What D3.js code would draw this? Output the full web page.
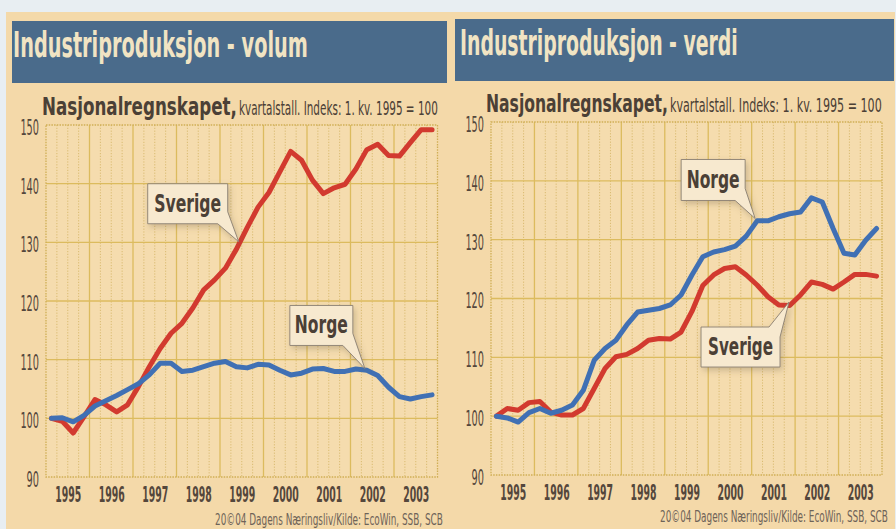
<!DOCTYPE html>
<html>
<head>
<meta charset="utf-8">
<script src="https://cdn.jsdelivr.net/npm/d3@7"></script>
<style>
body { margin: 0; background: #e7eef2; }
svg { display: block; }
</style>
</head>
<body>
<svg id="chart" width="896" height="529"></svg>
<script>
// --- data (quarterly, index 1. kv. 1995 = 100) ---
var years = [1995, 1996, 1997, 1998, 1999, 2000, 2001, 2002, 2003];
var yTicks = [90, 100, 110, 120, 130, 140, 150];

var sverigeVolum = [100, 99.5, 97.5, 100.3, 103.2, 102.3, 101.1, 102.3, 105.4, 108.8, 111.9, 114.5,
  116.2, 118.8, 121.9, 123.6, 125.6, 128.8, 132.5, 136, 138.5, 142, 145.5, 144,
  140.6, 138.3, 139.3, 139.9, 142.5, 145.8, 146.7, 144.8, 144.7, 147, 149.2, 149.2];
var norgeVolum = [100, 100.1, 99.4, 100.5, 102.1, 103, 103.9, 104.9, 105.9, 107.4, 109.4, 109.4,
  108, 108.2, 108.8, 109.4, 109.7, 108.8, 108.6, 109.2, 109.1, 108.2, 107.4, 107.7,
  108.4, 108.5, 108, 108, 108.4, 108.2, 107.3, 105.3, 103.7, 103.3, 103.7, 104];
var sverigeVerdi = [100, 101.3, 101, 102.3, 102.5, 100.7, 100.2, 100.2, 101.3, 104.7, 108.1, 110.1,
  110.5, 111.5, 112.9, 113.2, 113.1, 114.3, 117.8, 122.2, 124, 125.1, 125.4, 124,
  122.3, 120.3, 118.9, 118.8, 120.6, 122.8, 122.4, 121.6, 122.8, 124.1, 124.1, 123.8];
var norgeVerdi = [100, 99.7, 99, 100.6, 101.3, 100.5, 101, 101.9, 104.4, 109.5, 111.5, 112.9,
  115.5, 117.7, 118, 118.3, 118.9, 120.6, 124, 127.1, 127.9, 128.3, 128.9, 130.6,
  133.2, 133.2, 133.9, 134.4, 134.7, 137.1, 136.4, 131.9, 127.7, 127.4, 129.9, 131.9];

// quarter i sits in the middle of its quarter
var quarterDate = function(i) { return years[0] + Math.floor(i / 4) + ((i % 4) + 0.5) / 4; };

var condensed = "'Liberation Sans Narrow', 'DejaVu Sans Condensed', 'Roboto', sans-serif";
var ink = "#4b4036";

// squeeze a text horizontally to a given width (the print uses a very narrow face)
var fit = function(sel, width) {
  sel.each(function(d) {
    var t = d3.select(this);
    var w = this.getComputedTextLength();
    var target = typeof width === "function" ? width(d) : width;
    var s = w > 0 ? target / w : 1;
    var tx = +t.attr("x") || 0, ty = +t.attr("y") || 0;
    t.attr("x", 0).attr("y", 0)
      .attr("transform", "translate(" + tx + "," + ty + ") scale(" + s + ",1)");
  });
};

var svg = d3.select("#chart");

var defs = svg.append("defs");
defs.append("filter").attr("id", "shadow")
  .attr("x", "-30%").attr("y", "-30%").attr("width", "160%").attr("height", "160%")
  .append("feDropShadow")
  .attr("dx", 2).attr("dy", 3).attr("stdDeviation", 3)
  .attr("flood-color", "#6b5a40").attr("flood-opacity", 0.3);

// page + paper
svg.append("rect").attr("width", 896).attr("height", 529).attr("fill", "#e8eef2");
svg.append("rect").attr("x", 6).attr("y", 12).attr("width", 889).attr("height", 517)
  .attr("fill", "#f4d9a9");

var panels = [
  { title: "Industriproduksjon - volum", titleW: 295, bar: [12, 21, 435, 62], titleX: 13, titleY: 57,
    subX: 42, subY: 115, subBoldW: 195, subRestW: 199,
    x0: 46, x1: 437.5, y0: 125, y1: 477, yearY: 25,
    series: [{ values: sverigeVolum, color: "#d23a2f" }, { values: norgeVolum, color: "#4070b4" }],
    notes: [
      { text: "Sverige", w: 67, at: [1999.43, 130.1], box: [-91, -58, 80, 40], corner: "br" },
      { text: "Norge", w: 53, at: [2002.33, 108.5], box: [-75, -63, 63, 40], corner: "br" }
    ],
    footX: 443, footY: 525 },
  { title: "Industriproduksjon - verdi", titleW: 278, bar: [455, 19, 439, 62], titleX: 460, titleY: 55,
    subX: 486, subY: 112, subBoldW: 182, subRestW: 212,
    x0: 491, x1: 882, y0: 122, y1: 475, yearY: 25,
    series: [{ values: sverigeVerdi, color: "#d23a2f" }, { values: norgeVerdi, color: "#4070b4" }],
    notes: [
      { text: "Norge", w: 53, at: [2001.08, 133.6], box: [-74, -59, 64, 41], corner: "br" },
      { text: "Sverige", w: 65, at: [2001.86, 119.4], box: [-88, 25, 79, 40], corner: "tr" }
    ],
    footX: 888, footY: 522 }
];

panels.forEach(function(p) {
  var x = d3.scaleLinear().domain([1995, 2004]).range([p.x0, p.x1]);
  var y = d3.scaleLinear().domain([90, 150]).range([p.y1, p.y0]);

  // header bar
  svg.append("rect").attr("x", p.bar[0]).attr("y", p.bar[1])
    .attr("width", p.bar[2]).attr("height", p.bar[3]).attr("fill", "#4a6b8b");
  svg.append("text").attr("x", p.titleX).attr("y", p.titleY)
    .attr("font-family", condensed).attr("font-weight", "bold").attr("font-size", 36)
    .attr("fill", "#f1e4c3")
    .text(p.title)
    .call(fit, p.titleW);

  // subtitle
  svg.append("text").attr("x", p.subX).attr("y", p.subY)
    .attr("font-family", condensed).attr("font-weight", "bold").attr("font-size", 25)
    .attr("fill", ink)
    .text("Nasjonalregnskapet,")
    .call(fit, p.subBoldW);
  svg.append("text").attr("x", p.subX + p.subBoldW + 2).attr("y", p.subY)
    .attr("font-family", condensed).attr("font-size", 20)
    .attr("fill", ink)
    .text("kvartalstall. Indeks: 1. kv. 1995 = 100")
    .call(fit, p.subRestW);

  var g = svg.append("g");

  // plot area
  g.append("rect").attr("x", p.x0).attr("y", p.y0)
    .attr("width", p.x1 - p.x0).attr("height", p.y1 - p.y0)
    .attr("fill", "#f5dcae");

  // quarter lines (dotted)
  var qLines = [];
  years.forEach(function(yr) { [0.25, 0.5, 0.75].forEach(function(f) { qLines.push(yr + f); }); });
  g.selectAll(".qline").data(qLines).enter().append("line")
    .attr("x1", function(d) { return x(d); }).attr("x2", function(d) { return x(d); })
    .attr("y1", p.y0).attr("y2", p.y1)
    .attr("stroke", "#d6b76a").attr("stroke-width", 0.9).attr("stroke-dasharray", "1.2,1.6");

  // year lines
  g.selectAll(".yline").data(years.slice(1)).enter().append("line")
    .attr("x1", function(d) { return x(d); }).attr("x2", function(d) { return x(d); })
    .attr("y1", p.y0).attr("y2", p.y1)
    .attr("stroke", "#dcbb5e").attr("stroke-width", 1.3);

  // horizontal grid
  g.selectAll(".hline").data(yTicks.slice(1, -1)).enter().append("line")
    .attr("x1", p.x0).attr("x2", p.x1)
    .attr("y1", function(d) { return y(d); }).attr("y2", function(d) { return y(d); })
    .attr("stroke", "#dcbb5e").attr("stroke-width", 1.4);

  g.append("rect").attr("x", p.x0).attr("y", p.y0)
    .attr("width", p.x1 - p.x0).attr("height", p.y1 - p.y0)
    .attr("fill", "none").attr("stroke", "#cfae55").attr("stroke-width", 1.3)
    .attr("stroke-dasharray", "1.5,1.2");

  // axes
  var yAxis = g.append("g").attr("transform", "translate(" + p.x0 + ",0)")
    .call(d3.axisLeft(y).tickValues(yTicks).tickSize(0).tickPadding(7));
  yAxis.select(".domain").remove();
  yAxis.selectAll("text")
    .attr("font-family", condensed).attr("font-size", 21).attr("fill", "#54473c")
    .attr("dy", "0.45em")
    .call(fit, function(d) { return String(d).length * 6.2; });

  var xAxis = g.append("g").attr("transform", "translate(0," + p.y1 + ")")
    .call(d3.axisBottom(x).tickValues(years.map(function(d) { return d + 0.5; }))
      .tickFormat(function(d) { return Math.floor(d); }).tickSize(0));
  xAxis.select(".domain").remove();
  xAxis.selectAll("text")
    .attr("font-family", condensed).attr("font-weight", "bold").attr("font-size", 21)
    .attr("fill", "#54473c").attr("y", p.yearY).attr("dy", 0)
    .call(fit, 26);

  // lines
  var line = d3.line()
    .x(function(d, i) { return x(quarterDate(i)); })
    .y(function(d) { return y(d); });
  p.series.forEach(function(s) {
    g.append("path").datum(s.values)
      .attr("d", line).attr("fill", "none")
      .attr("stroke", s.color).attr("stroke-width", 5)
      .attr("stroke-linejoin", "round").attr("stroke-linecap", "round");
  });

  // callouts
  p.notes.forEach(function(n) {
    var ax = x(n.at[0]), ay = y(n.at[1]);
    var bx = ax + n.box[0], by = ay + n.box[1], bw = n.box[2], bh = n.box[3];
    var r = bx + bw, b = by + bh;
    var pts;
    if (n.corner === "br") {
      pts = [[bx, by], [r, by], [r, b - 12], [ax, ay], [r - 10, b], [bx, b]];
    } else {
      pts = [[bx, by], [r - 11, by], [ax, ay], [r, by + 10], [r, b], [bx, b]];
    }
    g.append("path")
      .attr("d", "M" + pts.map(function(q) { return q.join(","); }).join("L") + "Z")
      .attr("fill", "#f7e9cf").attr("stroke", "#8a7f72").attr("stroke-width", 0.9)
      .attr("filter", "url(#shadow)");
    g.append("text").attr("x", bx + (bw - n.w) / 2).attr("y", by + bh / 2 + 8)
      .attr("font-family", condensed).attr("font-weight", "bold").attr("font-size", 24)
      .attr("fill", ink)
      .text(n.text)
      .call(fit, n.w);
  });

  // source line
  svg.append("text").attr("x", p.footX - 228).attr("y", p.footY)
    .attr("font-family", condensed).attr("font-size", 16).attr("fill", "#6e6358")
    .text("20\u00A904 Dagens N\u00E6ringsliv/Kilde: EcoWin, SSB, SCB")
    .call(fit, 228);
});
</script>
</body>
</html>
